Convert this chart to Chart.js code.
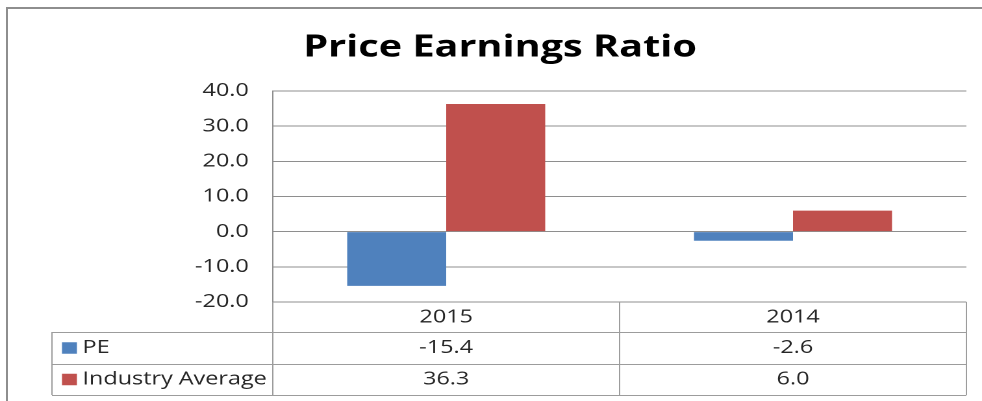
<!DOCTYPE html>
<html>
<head>
<meta charset="utf-8">
<script src="https://cdn.jsdelivr.net/npm/chart.js@4/dist/chart.umd.min.js"></script>
<style>
  html, body { margin: 0; padding: 0; background: #fff; overflow: hidden; width: 982px; height: 401px; }
  /* the source picture is an Excel chart stretched sideways, so stretch ours too */
  #wrap { position: absolute; left: 0; top: 0; width: 756px; height: 401px; transform: scaleX(1.29894); transform-origin: 0 0; }
  /* outer frame of the chart object, only its top and left edges are in view */
  .edge { position: absolute; background: #8e8e8e; }
  #edgeTop { left: 6px; top: 7px; width: 976px; height: 2px; }
  #edgeLeft { left: 6px; top: 7px; width: 2px; height: 394px; }
</style>
</head>
<body>
<div class="edge" id="edgeTop"></div>
<div class="edge" id="edgeLeft"></div>
<div id="wrap"><canvas id="chart" width="756" height="401"></canvas></div>
<script>
const chartTitle = "Price Earnings Ratio";
const years = ["2015", "2014"];
const seriesNames = ["PE", "Industry Average"];
const peValues = [-15.4, -2.6];
const industryValues = [36.3, 6.0];
const seriesColors = ["#4f81bd", "#c0504d"];
const yTicks = [-20, -10, 0, 10, 20, 30, 40];

const textFont = "'Open Sans', sans-serif";
const lineGrey = "#8e8e8e";

// Excel style data table under the plot
const dataTable = {
  id: "dataTable",
  afterDraw(chart) {
    const { ctx, chartArea: area } = chart;
    const x = chart.scales.x;
    const headerH = 30;
    const rowH = 31.5;
    const tableLeft = 40;
    const top = area.bottom;
    const rowsTop = top + headerH;
    const bottom = rowsTop + rowH * chart.data.datasets.length;

    const edges = [area.left];
    for (let i = 1; i < years.length; i++) {
      edges.push((x.getPixelForValue(i - 1) + x.getPixelForValue(i)) / 2);
    }
    edges.push(area.right);

    ctx.save();
    ctx.strokeStyle = "#9c9c9c";
    ctx.lineWidth = 1;
    ctx.beginPath();
    for (let r = 0; r <= chart.data.datasets.length; r++) {
      const y = Math.round(rowsTop + rowH * r) + 0.5;
      ctx.moveTo(tableLeft, y);
      ctx.lineTo(area.right, y);
    }
    ctx.moveTo(tableLeft, rowsTop);
    ctx.lineTo(tableLeft, bottom);
    edges.forEach((ex) => {
      ctx.moveTo(ex, top);
      ctx.lineTo(ex, bottom);
    });
    ctx.stroke();

    ctx.font = "18px " + textFont;
    ctx.textBaseline = "middle";
    chart.data.datasets.forEach((ds, r) => {
      const cy = rowsTop + rowH * r + rowH / 2;
      ctx.fillStyle = ds.backgroundColor;
      ctx.fillRect(47.7, cy - 5.5, 11.5, 11.5);
      ctx.fillStyle = "#262626";
      ctx.textAlign = "left";
      ctx.fillText(ds.label, 63.5, cy);
      ctx.textAlign = "center";
      ds.data.forEach((v, i) => {
        ctx.fillText(v.toFixed(1), x.getPixelForValue(i), cy);
      });
    });
    ctx.restore();
  },
};

new Chart(document.getElementById("chart"), {
  type: "bar",
  plugins: [dataTable],
  data: {
    labels: years,
    datasets: [
      { label: seriesNames[0], data: peValues, backgroundColor: seriesColors[0] },
      { label: seriesNames[1], data: industryValues, backgroundColor: seriesColors[1] },
    ],
  },
  options: {
    responsive: false,
    devicePixelRatio: 2,
    animation: false,
    layout: { padding: { left: 26, right: 12, top: 0, bottom: 0 } },
    datasets: {
      bar: { categoryPercentage: 0.571, barPercentage: 1 },
    },
    plugins: {
      legend: { display: false },
      tooltip: { enabled: false },
      title: {
        display: true,
        text: chartTitle,
        color: "#000",
        font: { family: textFont, size: 30.5, weight: "bold" },
        padding: { top: 29.5, bottom: 24.9 },
      },
    },
    scales: {
      x: {
        grid: { display: false, drawTicks: false },
        border: { display: false },
        ticks: { color: "#262626", font: { family: textFont, size: 18 }, padding: 4.5 },
        afterFit(scale) { scale.height = 99; },
      },
      y: {
        min: yTicks[0],
        max: yTicks[yTicks.length - 1],
        grid: { color: lineGrey, drawTicks: false },
        border: { display: true, color: lineGrey },
        ticks: {
          stepSize: yTicks[1] - yTicks[0],
          padding: 18.5,
          color: "#262626",
          font: { family: textFont, size: 18 },
          callback: (v) => v.toFixed(1),
        },
        afterFit(scale) { scale.width = 184; },
      },
    },
  },
});
</script>
</body>
</html>
